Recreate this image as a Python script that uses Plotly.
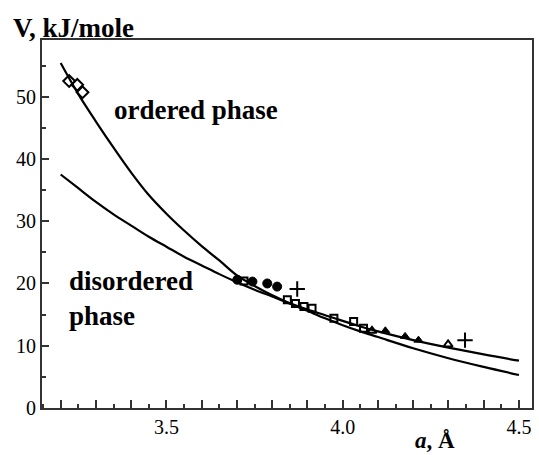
import plotly.graph_objects as go

# ---- curves ----
ordered_a = [3.20, 3.25, 3.30, 3.35, 3.40, 3.45, 3.50, 3.55, 3.60, 3.65, 3.70, 3.75,
             3.80, 3.85, 3.90, 3.95, 4.00, 4.05, 4.10, 4.20, 4.30, 4.40, 4.50]
ordered_v = [55.4, 50.4, 46.0, 41.8, 37.8, 34.2, 31.2, 28.5, 26.0, 23.7, 21.3, 19.6,
             18.1, 16.8, 15.6, 14.4, 13.3, 12.3, 11.4, 9.6, 8.0, 6.6, 5.3]

disordered_a = [3.20, 3.25, 3.30, 3.35, 3.40, 3.45, 3.50, 3.55, 3.60, 3.65, 3.70, 3.75,
                3.80, 3.85, 3.90, 3.95, 4.00, 4.05, 4.10, 4.20, 4.30, 4.40, 4.50]
disordered_v = [37.5, 35.3, 33.1, 31.1, 29.3, 27.5, 25.9, 24.3, 22.9, 21.5, 20.2, 19.0,
                17.9, 16.8, 15.8, 14.9, 14.0, 13.1, 12.3, 10.9, 9.7, 8.6, 7.6]

# ---- experimental points ----
diamond_a = [3.224, 3.247, 3.262]
diamond_v = [52.5, 51.9, 50.7]

filled_circle_a = [3.701, 3.744, 3.786, 3.814]
filled_circle_v = [20.6, 20.3, 20.0, 19.5]

open_square_a = [3.720, 3.843, 3.866, 3.890, 3.913, 3.975, 4.031, 4.059]
open_square_v = [20.4, 17.4, 16.8, 16.3, 16.0, 14.4, 13.9, 12.8]

open_triangle_a = [4.083, 4.299]
open_triangle_v = [12.4, 10.2]

filled_triangle_a = [4.121, 4.177, 4.215]
filled_triangle_v = [12.4, 11.5, 10.9]

plus_a = [3.871, 4.347]
plus_v = [19.1, 10.9]

# ---- axis ticks ----
x_tickvals = [3.2, 3.3, 3.4, 3.5, 3.6, 3.7, 3.8, 3.9, 4.0, 4.1, 4.2, 4.3, 4.4, 4.5]
x_ticktext = ["", "", "", "3.5", "", "", "", "", "4.0", "", "", "", "", "4.5"]
y_tickvals = [0, 10, 20, 30, 40, 50]
y_ticktext = ["0", "10", "20", "30", "40", "50"]

FONT = "Liberation Serif"

fig = go.Figure()
fig.add_trace(go.Scatter(x=ordered_a, y=ordered_v, mode="lines",
                         line=dict(color="black", width=2.2, shape="spline")))
fig.add_trace(go.Scatter(x=disordered_a, y=disordered_v, mode="lines",
                         line=dict(color="black", width=2.2, shape="spline")))

def pts(xs, ys, symbol, size, lw=2):
    fig.add_trace(go.Scatter(x=xs, y=ys, mode="markers",
                             marker=dict(symbol=symbol, size=size, color="black",
                                         line=dict(color="black", width=lw))))

pts(diamond_a, diamond_v, "diamond-open", 9)
pts(filled_circle_a, filled_circle_v, "circle", 9, 1)
pts(open_square_a, open_square_v, "square-open", 7)
pts(open_triangle_a, open_triangle_v, "triangle-up-open", 8)
pts(filled_triangle_a, filled_triangle_v, "triangle-up", 8, 1)
pts(plus_a, plus_v, "cross-thin-open", 11, 2)

axis_common = dict(showline=True, linecolor="#333", linewidth=2, mirror=True,
                   showgrid=False, zeroline=False, ticks="inside",
                   tickcolor="#333", tickwidth=1.5,
                   tickfont=dict(family=FONT, size=20, color="black"))

fig.update_xaxes(range=[3.147, 4.537], tickmode="array", tickvals=x_tickvals,
                 ticktext=x_ticktext, ticklen=8,
                 minor=dict(dtick=0.05, tick0=3.15, ticks="inside", ticklen=4,
                            tickcolor="#333", tickwidth=1.5),
                 **axis_common)
fig.update_yaxes(range=[0, 59.1], tickmode="array", tickvals=y_tickvals,
                 ticktext=y_ticktext, ticklen=7,
                 minor=dict(dtick=5, tick0=0, ticks="inside", ticklen=4,
                            tickcolor="#333", tickwidth=1.5),
                 **axis_common)

annots = [
    dict(text="<b>V, kJ/mole</b>", x=-0.064, y=1.033, xref="paper", yref="paper",
         xanchor="left", yanchor="middle", font=dict(family=FONT, size=27)),
    dict(text="<b><i>a</i>, Å</b>", x=0.758, y=-0.088, xref="paper", yref="paper",
         xanchor="left", yanchor="middle", font=dict(family=FONT, size=23)),
    dict(text="<b>ordered phase</b>", x=3.345, y=47.8, xref="x", yref="y",
         xanchor="left", yanchor="middle", font=dict(family=FONT, size=27)),
    dict(text="<b>disordered<br>phase</b>", x=3.218, y=17.6, xref="x", yref="y",
         xanchor="left", yanchor="middle", align="left",
         font=dict(family=FONT, size=27)),
]
for a in annots:
    a["showarrow"] = False
    a["font"]["color"] = "black"

fig.update_layout(width=539, height=455, margin=dict(l=42, r=5, t=40, b=47),
                  plot_bgcolor="white", paper_bgcolor="white", showlegend=False,
                  annotations=annots)

fig.write_html("out.html")
